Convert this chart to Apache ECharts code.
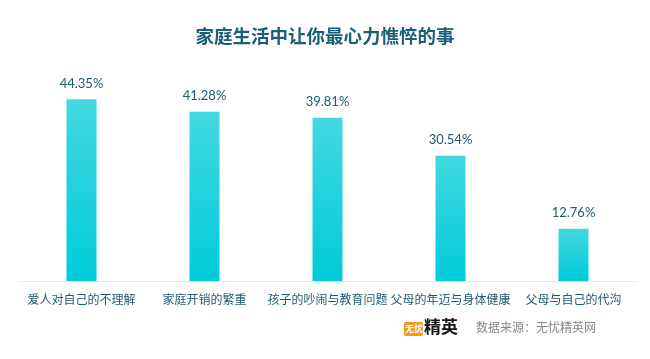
<!DOCTYPE html>
<html><head><meta charset="utf-8">
<script src="https://cdn.jsdelivr.net/npm/echarts@6/dist/echarts.min.js"></script>
<style>html,body{margin:0;padding:0;background:#fff}#c{width:650px;height:359px}</style>
</head><body><div id="c"></div>
<script>
const categories = ['爱人对自己的不理解','家庭开销的繁重','孩子的吵闹与教育问题','父母的年迈与身体健康','父母与自己的代沟'];
const values = [44.35, 41.28, 39.81, 30.54, 12.76];
const titleText = '家庭生活中让你最心力憔悴的事';
const sourceText = '数据来源：无忧精英网';

const chart = echarts.init(document.getElementById('c'));
chart.setOption({
  animation: false,
  title: {text: titleText, left: 'center', top: 22,
    textStyle: {color: '#1b5e78', fontSize: 18.5, fontWeight: 'bold', fontFamily: 'Noto Sans CJK SC'}},
  grid: {left: 20, right: 15, top: 76, bottom: 78},
  xAxis: {type: 'category', data: categories,
    axisLine: {lineStyle: {color: '#cdeef2'}}, axisTick: {show: false},
    axisLabel: {color: '#1f5a6e', fontSize: 12, margin: 12, interval: 0, fontFamily: 'Noto Sans CJK SC'}},
  yAxis: {type: 'value', min: 0, max: 50, show: false, splitLine: {show: false}},
  series: [{type: 'bar', data: values, barWidth: 30,
    itemStyle: {color: new echarts.graphic.LinearGradient(0,0,0,1,[{offset:0,color:'#42d9e0'},{offset:1,color:'#00cbd9'}])},
    label: {show: true, position: 'top', distance: 9, color: '#1f5a6e', fontSize: 13, fontFamily: 'Lato',
      formatter: p => p.value.toFixed(2) + '%'}}],
  graphic: [
    {type: 'rect', left: 404, top: 322, shape: {width: 19, height: 14, r: 2}, style: {fill: '#f39a1e'}},
    {type: 'text', left: 405, top: 324, style: {text: '无忧', fill: '#fff', font: 'bold 9px "Noto Sans CJK SC"'}},
    {type: 'text', left: 424, top: 318, style: {text: '精英', fill: '#111', font: 'bold 17px "Noto Sans CJK SC"'}},
    {type: 'text', left: 476, top: 321, style: {text: sourceText, fill: '#888', font: '12px "Noto Sans CJK SC"'}}
  ]
});
</script></body></html>
